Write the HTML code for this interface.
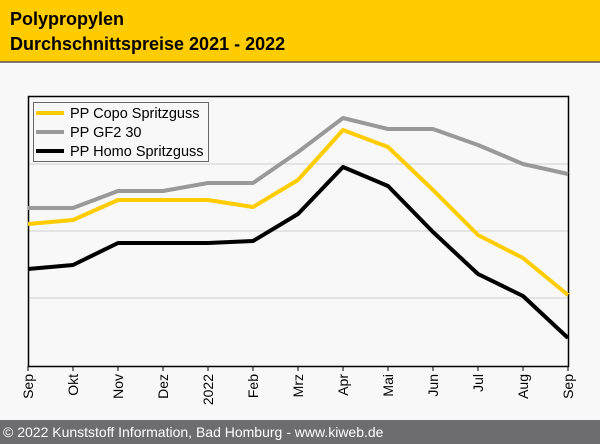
<!DOCTYPE html>
<html><head><style>
body{margin:0;width:600px;height:444px;overflow:hidden;background:#f8f8f8;font-family:"Liberation Sans",sans-serif}
</style></head><body>
<svg width="600" height="444" xmlns="http://www.w3.org/2000/svg" style="display:block">
<rect x="0" y="0" width="600" height="444" fill="#f8f8f8"/>
<rect x="0" y="0" width="600" height="62" fill="#ffcc00"/>
<line x1="0" y1="62" x2="600" y2="62" stroke="#555" stroke-width="1.5"/>
<text x="10" y="25" font-size="18" font-weight="bold" fill="#000">Polypropylen</text>
<text x="10" y="50" font-size="18" font-weight="bold" fill="#000">Durchschnittspreise 2021 - 2022</text>
<g stroke="#d0d0d0" stroke-width="1">
<line x1="28" y1="164" x2="568" y2="164"/><line x1="28" y1="231" x2="568" y2="231"/><line x1="28" y1="298" x2="568" y2="298"/>
</g>
<rect x="28.5" y="96.5" width="540" height="270" fill="none" stroke="#000" stroke-width="1.5"/>
<g stroke="#000" stroke-width="1">
<line x1="28" y1="366" x2="28" y2="371"/><line x1="73" y1="366" x2="73" y2="371"/><line x1="118" y1="366" x2="118" y2="371"/><line x1="163" y1="366" x2="163" y2="371"/><line x1="208" y1="366" x2="208" y2="371"/><line x1="253" y1="366" x2="253" y2="371"/><line x1="298" y1="366" x2="298" y2="371"/><line x1="343" y1="366" x2="343" y2="371"/><line x1="388" y1="366" x2="388" y2="371"/><line x1="433" y1="366" x2="433" y2="371"/><line x1="478" y1="366" x2="478" y2="371"/><line x1="523" y1="366" x2="523" y2="371"/><line x1="568" y1="366" x2="568" y2="371"/>
</g>
<g font-size="14" fill="#000" text-anchor="end">
<text transform="translate(33,374) rotate(-90)">Sep</text>
<text transform="translate(78,374) rotate(-90)">Okt</text>
<text transform="translate(123,374) rotate(-90)">Nov</text>
<text transform="translate(168,374) rotate(-90)">Dez</text>
<text transform="translate(213,374) rotate(-90)">2022</text>
<text transform="translate(258,374) rotate(-90)">Feb</text>
<text transform="translate(303,374) rotate(-90)">Mrz</text>
<text transform="translate(348,374) rotate(-90)">Apr</text>
<text transform="translate(393,374) rotate(-90)">Mai</text>
<text transform="translate(438,374) rotate(-90)">Jun</text>
<text transform="translate(483,374) rotate(-90)">Jul</text>
<text transform="translate(528,374) rotate(-90)">Aug</text>
<text transform="translate(573,374) rotate(-90)">Sep</text>
</g>
<g fill="none" stroke-width="4" stroke-linejoin="round">
<polyline stroke="#999" points="28,208 73,208 118,191 163,191 208,183 253,183 298,152 343,118 388,129 433,129 478,145 523,164 568,174"/>
<polyline stroke="#ffcc00" points="28,224 73,220 118,200 163,200 208,200 253,207 298,180 343,130 388,147 433,190 478,235 523,258 568,295"/>
<polyline stroke="#000" points="28,269 73,265 118,243 163,243 208,243 253,241 298,214 343,167 388,186 433,232 478,274 523,296 568,338"/>
</g>
<rect x="33.5" y="102.5" width="175" height="59" fill="#f8f8f8" stroke="#666" stroke-width="1"/>
<line x1="36" y1="113" x2="64" y2="113" stroke="#ffcc00" stroke-width="4"/>
<line x1="36" y1="132" x2="64" y2="132" stroke="#999" stroke-width="4"/>
<line x1="36" y1="151" x2="64" y2="151" stroke="#000" stroke-width="4"/>
<g font-size="14.5" fill="#000">
<text x="70" y="118">PP Copo Spritzguss</text>
<text x="70" y="137">PP GF2 30</text>
<text x="70" y="156">PP Homo Spritzguss</text>
</g>
<rect x="0" y="420" width="600" height="24" fill="#6d6d70"/>
<text x="3" y="437" font-size="14" fill="#fff">© 2022 Kunststoff Information, Bad Homburg - www.kiweb.de</text>
</svg>
</body></html>
